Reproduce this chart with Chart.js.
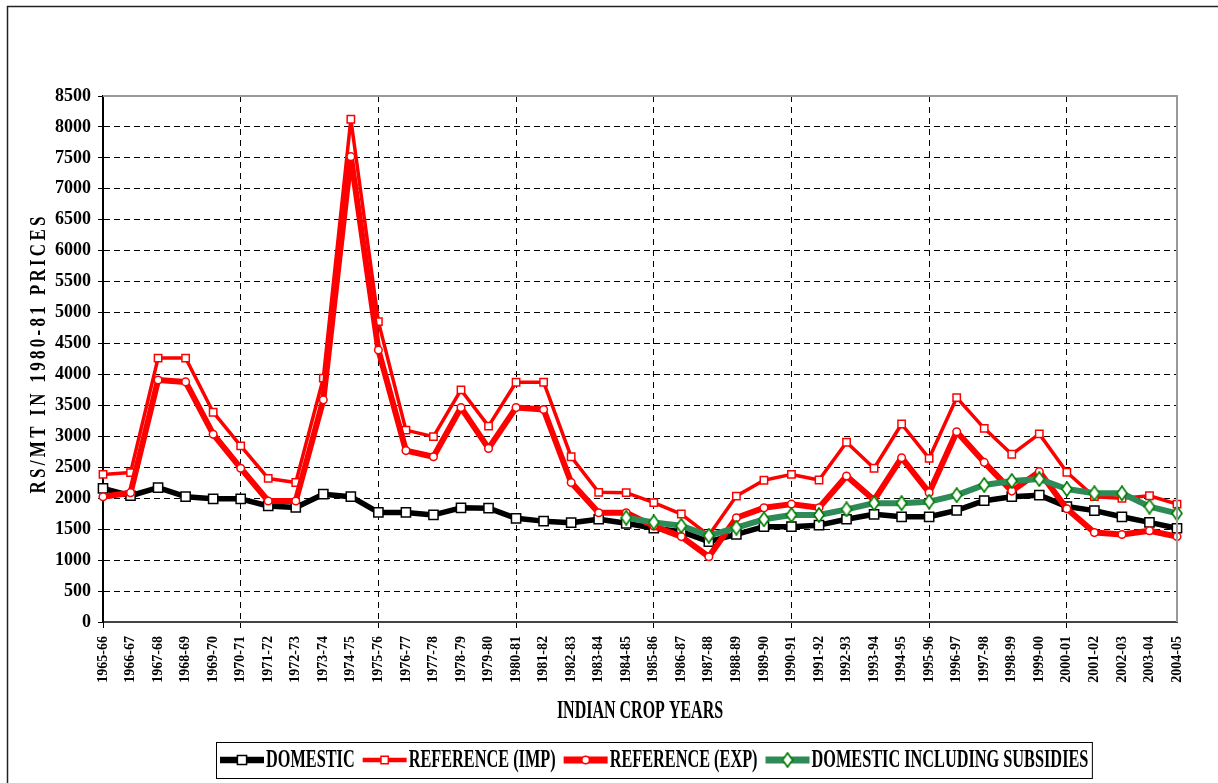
<!DOCTYPE html>
<html>
<head>
<meta charset="utf-8">
<script src="https://cdn.jsdelivr.net/npm/chart.js@4.4.1/dist/chart.umd.min.js"></script>
<style>
  html, body { margin: 0; padding: 0; background: #fff; }
  #wrap { width: 1218px; height: 783px; }
</style>
</head>
<body>
<div id="wrap"><canvas id="priceChart" width="1218" height="783"></canvas></div>
<script>
const cropYears = [
  "1965-66", "1966-67", "1967-68", "1968-69", "1969-70", "1970-71", "1971-72", "1972-73",
  "1973-74", "1974-75", "1975-76", "1976-77", "1977-78", "1978-79", "1979-80", "1980-81",
  "1981-82", "1982-83", "1983-84", "1984-85", "1985-86", "1986-87", "1987-88", "1988-89",
  "1989-90", "1990-91", "1991-92", "1992-93", "1993-94", "1994-95", "1995-96", "1996-97",
  "1997-98", "1998-99", "1999-00", "2000-01", "2001-02", "2002-03", "2003-04", "2004-05"
];

const domestic = [
  2160, 2040, 2170, 2025, 1990, 1990, 1875, 1850, 2065, 2025,
  1770, 1770, 1730, 1845, 1840, 1675, 1630, 1605, 1660, 1595,
  1515, 1460, 1300, 1415, 1540, 1540, 1565, 1660, 1740, 1700,
  1700, 1805, 1960, 2025, 2050, 1865, 1800, 1700, 1610, 1515
];

const referenceImp = [
  2385, 2415, 4265, 4265, 3390, 2845, 2320, 2255, 3940, 8125,
  4855, 3100, 2995, 3750, 3165, 3875, 3875, 2670, 2095, 2090,
  1930, 1745, 1400, 2035, 2290, 2385, 2295, 2905, 2485, 3200,
  2645, 3625, 3130, 2710, 3040, 2420, 2025, 2000, 2040, 1905
];

const referenceExp = [
  2025, 2090, 3910, 3880, 3035, 2485, 1955, 1955, 3590, 7520,
  4395, 2770, 2670, 3465, 2805, 3465, 3435, 2255, 1765, 1765,
  1550, 1380, 1055, 1685, 1845, 1905, 1845, 2360, 1970, 2655,
  2090, 3075, 2580, 2115, 2430, 1830, 1445, 1415, 1475, 1380
];

const domesticWithSubsidies = [
  null, null, null, null, null, null, null, null, null, null,
  null, null, null, null, null, null, null, null, null, 1685,
  1610, 1555, 1395, 1525, 1660, 1730, 1730, 1820, 1920, 1920,
  1945, 2050, 2215, 2280, 2310, 2150, 2080, 2080, 1865, 1755
];

const yTitle = "RS/MT IN 1980-81 PRICES";
const xTitle = "INDIAN CROP YEARS";

const SERIF = "'Times New Roman', 'Liberation Serif', serif";

// tall narrow diamond marker for the subsidy series
function makeDiamond() {
  const c = document.createElement("canvas");
  c.width = 12;
  c.height = 16;
  const g = c.getContext("2d");
  g.beginPath();
  g.moveTo(6, 1);
  g.lineTo(11, 8);
  g.lineTo(6, 15);
  g.lineTo(1, 8);
  g.closePath();
  g.fillStyle = "#fff";
  g.fill();
  g.lineWidth = 1.7;
  g.strokeStyle = "#008000";
  g.stroke();
  return c;
}
const diamond = makeDiamond();

function stretchedText(ctx, text, x, y, opts) {
  ctx.save();
  ctx.translate(x, y);
  if (opts.rotate) ctx.rotate(opts.rotate);
  ctx.scale(opts.squeeze || 1, opts.stretch || 1);
  ctx.font = opts.font;
  ctx.fillStyle = "#000";
  ctx.textAlign = opts.align || "center";
  ctx.textBaseline = "middle";
  if (opts.spacing) ctx.letterSpacing = opts.spacing + "px";
  ctx.fillText(text, opts.spacing && (opts.align || "center") === "center" ? opts.spacing / 2 : 0, 0);
  ctx.restore();
}

function legendMarker(ctx, ds, x, y) {
  const opts = {
    pointStyle: ds.pointStyle,
    radius: ds.pointRadius,
    rotation: 0,
    borderWidth: ds.pointBorderWidth
  };
  ctx.save();
  ctx.fillStyle = ds.pointBackgroundColor;
  ctx.strokeStyle = ds.pointBorderColor;
  ctx.lineWidth = ds.pointBorderWidth;
  Chart.helpers.drawPoint(ctx, opts, x, y);
  ctx.restore();
}

const decorations = {
  id: "decorations",
  beforeDraw(chart) {
    const ctx = chart.ctx;
    ctx.save();
    ctx.fillStyle = "#fff";
    ctx.fillRect(0, 0, chart.width, chart.height);
    ctx.restore();
  },
  afterDraw(chart) {
    const ctx = chart.ctx;
    const a = chart.chartArea;
    ctx.save();

    // grey frame on top and right of plot area
    ctx.strokeStyle = "#9a9a9a";
    ctx.lineWidth = 2;
    ctx.beginPath();
    ctx.moveTo(a.left, a.top);
    ctx.lineTo(a.right, a.top);
    ctx.lineTo(a.right, a.bottom);
    ctx.stroke();

    // outer chart frame
    ctx.strokeStyle = "#222";
    ctx.lineWidth = 1.5;
    ctx.beginPath();
    ctx.moveTo(7.5, chart.height);
    ctx.lineTo(7.5, 6.5);
    ctx.lineTo(chart.width, 6.5);
    ctx.stroke();
    ctx.restore();

    // axis titles
    stretchedText(ctx, yTitle, 39, 355, {
      font: "bold 17px " + SERIF, rotate: -Math.PI / 2, stretch: 1.4, spacing: 3.3
    });
    stretchedText(ctx, xTitle, (a.left + a.right) / 2, 712, {
      font: "bold 16px " + SERIF, stretch: 1.55
    });

    // legend
    const legendY = 760;
    const font = "bold 16.3px " + SERIF;
    let x = 220;
    ctx.save();
    ctx.font = font;
    chart.data.datasets.forEach((ds) => {
      ctx.save();
      ctx.strokeStyle = ds.borderColor;
      ctx.lineWidth = ds.borderWidth + 1;
      ctx.beginPath();
      ctx.moveTo(x, legendY);
      ctx.lineTo(x + 44, legendY);
      ctx.stroke();
      ctx.restore();
      legendMarker(ctx, ds, x + 22, legendY);
      const w = ctx.measureText(ds.label).width;
      stretchedText(ctx, ds.label, x + 46, legendY, { font, align: "left", stretch: 1.6 });
      x += 46 + w + 8;
    });
    ctx.strokeStyle = "#000";
    ctx.lineWidth = 1;
    ctx.strokeRect(216.5, 742.5, x - 8 + 4 - 216.5, 36);
    ctx.restore();
  }
};

const ctx = document.getElementById("priceChart").getContext("2d");
new Chart(ctx, {
  type: "line",
  data: {
    labels: cropYears,
    datasets: [
      {
        label: "DOMESTIC",
        data: domestic,
        borderColor: "#000",
        borderWidth: 5.5,
        pointStyle: "rect",
        pointRadius: 6.5,
        pointBorderWidth: 1.5,
        pointBackgroundColor: "#fff",
        pointBorderColor: "#000",
        order: 3
      },
      {
        label: "REFERENCE (IMP)",
        data: referenceImp,
        borderColor: "#ff0000",
        borderWidth: 3.5,
        pointStyle: "rect",
        pointRadius: 5.2,
        pointBorderWidth: 1.5,
        pointBackgroundColor: "#fff",
        pointBorderColor: "#ff0000",
        order: 2
      },
      {
        label: "REFERENCE (EXP)",
        data: referenceExp,
        borderColor: "#ff0000",
        borderWidth: 6,
        pointStyle: "circle",
        pointRadius: 3.8,
        pointBorderWidth: 1.5,
        pointBackgroundColor: "#fff",
        pointBorderColor: "#ff0000",
        order: 1
      },
      {
        label: "DOMESTIC INCLUDING SUBSIDIES",
        data: domesticWithSubsidies,
        borderColor: "#2e8b57",
        borderWidth: 6,
        pointStyle: diamond,
        pointRadius: 5,
        pointBorderWidth: 1.5,
        pointBackgroundColor: "#fff",
        pointBorderColor: "#008000",
        order: 0
      }
    ]
  },
  options: {
    responsive: false,
    animation: false,
    events: [],
    layout: { padding: { left: 0, top: 96, right: 41, bottom: 53 } },
    elements: { line: { tension: 0, borderJoinStyle: "round" } },
    plugins: {
      legend: { display: false },
      tooltip: { enabled: false }
    },
    scales: {
      x: {
        offset: false,
        afterFit(s) { s.height = 108; },
        border: { display: true, color: "#444", width: 2, dash: [6, 5] },
        grid: {
          color: (c) => (c.index % 5 === 0 && c.index > 0 ? "#000" : "rgba(0,0,0,0)"),
          tickColor: (c) => (c.index % 5 === 0 ? "#000" : "rgba(0,0,0,0)"),
          tickBorderDash: [],
          tickLength: 6,
          lineWidth: 1
        },
        ticks: {
          autoSkip: false,
          maxRotation: 90,
          minRotation: 90,
          padding: 8,
          color: "#000",
          font: { family: SERIF, size: 14, weight: "bold" }
        }
      },
      y: {
        min: 0,
        max: 8500,
        afterFit(s) { s.width = 103; },
        border: { display: true, color: "#000", width: 2, dash: [6, 4] },
        grid: {
          color: (c) => (c.tick && (c.tick.value === 0 || c.tick.value === 8500) ? "rgba(0,0,0,0)" : "#000"),
          tickColor: "#000",
          tickBorderDash: [],
          tickLength: 5,
          lineWidth: 1
        },
        ticks: {
          stepSize: 500,
          padding: 7,
          color: "#000",
          font: { family: SERIF, size: 18, weight: "bold" },
          callback: (v) => String(v)
        }
      }
    }
  },
  plugins: [decorations]
});
</script>
</body>
</html>
